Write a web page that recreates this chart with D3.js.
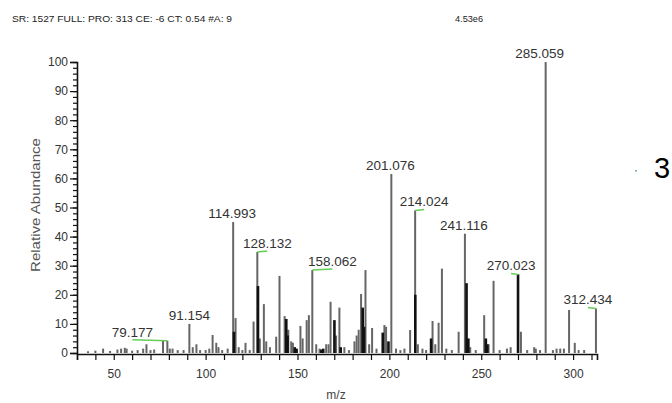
<!DOCTYPE html>
<html>
<head>
<meta charset="utf-8">
<script src="https://cdn.jsdelivr.net/npm/d3@7"></script>
<style>
  body { margin: 0; background: #fff; }
  svg { font-family: "Liberation Sans", Arial, sans-serif; }
</style>
</head>
<body>
<div id="chart"></div>
<script>
// peaks (m/z, relative abundance)
var greyMz = [36, 40, 44.2, 48, 52, 54, 56, 57, 60, 63, 66, 67.8, 70, 72, 76.8, 79.177, 80.5, 82, 84.8, 88,
  91.154, 93, 95, 97, 100, 102, 103.8, 105.8, 107, 109, 112, 114.993, 116.3, 118, 120, 121.7, 124, 126.1,
  128.132, 129.5, 131.7, 133, 135, 138.4, 140.2, 143, 145, 146.6, 147.5, 151.6, 152.8, 155, 156.2, 158.062,
  160.2, 162, 165.6, 166.9, 168, 171, 172.8, 175.5, 178, 181, 182.2, 183.3, 184.6, 187, 189, 190.6, 193,
  197.3, 198.2, 201.076, 203.6, 206, 208.2, 211.3, 214.024, 215.5, 218, 220, 223.5, 225, 226.8, 228.6, 231,
  234, 237.7, 241.116, 244, 247, 251.6, 254, 256.7, 260, 264, 266, 271.6, 275, 278.8, 279.7, 282, 285.059,
  289, 291, 293, 295, 297.8, 300.9, 303, 306, 312.434];
var greyAbund = [0.6, 0.8, 1.5, 0.7, 1.2, 1.5, 1.8, 1.5, 0.8, 1, 1.5, 3, 1, 1.2, 4.3, 4.2, 1.5, 1.5, 1, 1,
  10, 2, 3, 1, 1, 1.5, 6.2, 3.5, 2, 1, 1.5, 45, 12, 2, 1, 3.5, 1, 10.8,
  34.7, 5, 16.8, 4, 2, 5.6, 26.5, 12.7, 8, 4, 3.5, 9.3, 5, 11.3, 13, 28.5,
  3, 1.5, 3, 3, 17.6, 6, 15.6, 2, 1, 4, 6, 8, 20.3, 28.5, 3, 8.6, 1.5,
  9.6, 9, 61.5, 1.5, 1, 1.5, 7.9, 49, 3, 1.5, 1, 11, 3, 10.4, 29, 1.5,
  1, 7.3, 41, 2, 1, 13, 3, 24.8, 1, 1.5, 2, 7.3, 1, 2, 1.5, 1, 100,
  1, 1.5, 1.5, 1.5, 14.8, 3.5, 1, 1, 15.3];
var darkMz = [115.4, 128.5, 143.9, 144.6, 148.5, 149.5, 163, 164, 170.1, 173.5, 185.5, 186.2, 196.4, 199.5,
  214.1, 222.7, 242, 243, 252.5, 253.3, 270.023];
var darkAbund = [7.3, 23, 11.7, 6, 2, 1.5, 1.2, 1.5, 11.3, 2, 15.6, 9, 7, 4,
  20, 5, 24, 5, 5, 3, 27];

// labelled peaks
var labelMz = [79.177, 91.154, 114.993, 128.132, 158.062, 201.076, 214.024, 241.116, 270.023, 285.059, 312.434];

var xTicks = [50, 100, 150, 200, 250, 300];
var yTicks = [0, 10, 20, 30, 40, 50, 60, 70, 80, 90, 100];

var headerText = "SR: 1527 FULL: PRO: 313 CE: -6 CT: 0.54 #A: 9";
var scaleText = "4.53e6";

// layout
var width = 672, height = 403;
var svg = d3.select("#chart").append("svg")
  .attr("width", width).attr("height", height);

var x = d3.scaleLinear().domain([30, 313]).range([77, 597]);
var y = d3.scaleLinear().domain([0, 100]).range([353, 62]);

// header
svg.append("text").attr("x", 12).attr("y", 22)
  .style("font-size", "9px").attr("fill", "#222")
  .attr("textLength", 220).attr("lengthAdjust", "spacingAndGlyphs")
  .text(headerText);
svg.append("text").attr("x", 455).attr("y", 22)
  .style("font-size", "9px").attr("fill", "#222")
  .attr("textLength", 28).attr("lengthAdjust", "spacingAndGlyphs")
  .text(scaleText);

// peaks
var grey = d3.zip(greyMz, greyAbund);
var dark = d3.zip(darkMz, darkAbund);

svg.append("g").selectAll("line")
  .data(grey).enter().append("line")
  .attr("x1", d => x(d[0])).attr("x2", d => x(d[0]))
  .attr("y1", y(0)).attr("y2", d => y(d[1]))
  .attr("stroke", "#666").attr("stroke-width", 2);

svg.append("g").selectAll("line")
  .data(dark).enter().append("line")
  .attr("x1", d => x(d[0])).attr("x2", d => x(d[0]))
  .attr("y1", y(0)).attr("y2", d => y(d[1]))
  .attr("stroke", "#111").attr("stroke-width", 2.6);

// axes
var yAxisMinor = svg.append("g").attr("transform", "translate(77,0)")
  .call(d3.axisLeft(y).tickValues(d3.range(0, 101, 2)).tickSize(4).tickFormat(""));
var yAxis = svg.append("g").attr("transform", "translate(77,0)")
  .call(d3.axisLeft(y).tickValues(yTicks).tickSize(7).tickPadding(2));
var xAxis = svg.append("g").attr("transform", "translate(0,354)")
  .call(d3.axisBottom(x).tickValues(d3.range(30, 311, 10)).tickSize(6).tickPadding(9)
    .tickFormat(d => xTicks.indexOf(d) >= 0 ? d : ""));

[yAxisMinor, yAxis, xAxis].forEach(function(g) {
  g.select(".domain").attr("stroke", "#111").attr("stroke-width", 1.6);
  g.selectAll(".tick line").attr("stroke", "#111").attr("stroke-width", 1.2);
  g.selectAll(".tick text").attr("fill", "#333").style("font-size", "12px")
    .style("font-family", "Liberation Sans, Arial, sans-serif");
});
yAxisMinor.select(".domain").remove();

// axis titles
svg.append("text").attr("x", 336).attr("y", 399)
  .attr("text-anchor", "middle").style("font-size", "12px").attr("fill", "#444")
  .text("m/z");
svg.append("text").attr("transform", "translate(40,205) rotate(-90)")
  .attr("text-anchor", "middle").style("font-size", "13px").attr("fill", "#555")
  .attr("textLength", 134).attr("lengthAdjust", "spacingAndGlyphs")
  .text("Relative Abundance");

// peak labels, some shifted sideways with a green leader
var labelDx = [-35, 0, -1, 10, 20, -1, 9, -1, -7, -6, -8];
var leader = [1, 0, 0, 1, 1, 0, 1, 0, 1, 0, 1];
var allPeaks = grey.concat(dark);
labelMz.forEach(function(m, i) {
  var p = allPeaks.find(d => d[0] === m);
  var px = x(m), py = y(p[1]);
  var lx = px + labelDx[i], ly = py - 4;
  if (leader[i]) {
    svg.append("line")
      .attr("x1", lx).attr("y1", ly + 3)
      .attr("x2", px).attr("y2", py)
      .attr("stroke", "#66cc55").attr("stroke-width", 1.5);
  }
  svg.append("text").attr("x", lx).attr("y", ly)
    .attr("text-anchor", "middle").style("font-size", "13.5px").attr("fill", "#333")
    .text(m.toFixed(3));
});

// stray marks at the right edge
svg.append("rect").attr("x", 635).attr("y", 170).attr("width", 2).attr("height", 1.5)
  .attr("fill", "#7aa");
svg.append("text").attr("x", 654).attr("y", 178)
  .style("font-size", "29px").style("font-family", "Liberation Sans, Arial, sans-serif")
  .attr("fill", "#000").text("3");
</script>
</body>
</html>
